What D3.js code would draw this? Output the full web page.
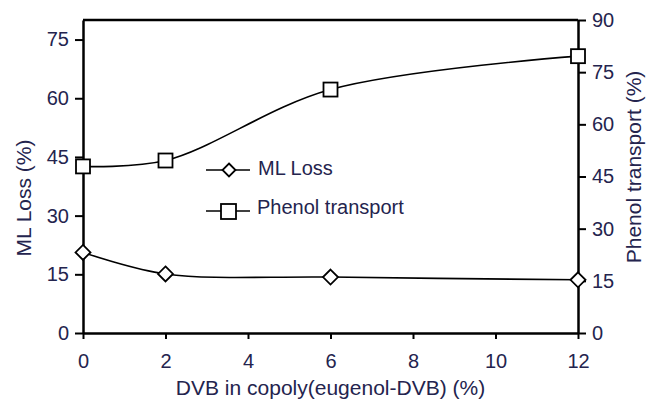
<!DOCTYPE html>
<html><head><meta charset="utf-8">
<script src="https://cdn.jsdelivr.net/npm/d3@7"></script>
<style>body{margin:0;background:#fff}svg{display:block}</style>
</head><body>
<script>
const dvb = [0, 2, 6, 12];
const mlLoss = [20.6, 15.1, 14.3, 13.6];
const phenolTransport = [47.9, 49.6, 70.0, 79.6];
const xTicks = [0, 2, 4, 6, 8, 10, 12];
const leftTicks = [0, 15, 30, 45, 60, 75];
const rightTicks = [0, 15, 30, 45, 60, 75, 90];

const W = 649, H = 403;
const L = 83, R = 578, T = 20, B = 333;
const txt = "#24244e";
const svg = d3.select("body").append("svg").attr("width", W).attr("height", H);

const x = d3.scaleLinear().domain([0, 12]).range([L, R]);
const yL = d3.scaleLinear().domain([0, 80]).range([B, T]);
const yR = d3.scaleLinear().domain([0, 90]).range([B, T]);

const font = "Liberation Sans, Arial, sans-serif";

// frame top
svg.append("line").attr("x1", L).attr("x2", R).attr("y1", T).attr("y2", T)
  .attr("stroke", "#000").attr("stroke-width", 2.5);

function styleAxis(g) {
  g.selectAll(".domain").attr("stroke", "#000").attr("stroke-width", 2.5);
  g.selectAll(".tick line").attr("stroke", "#000").attr("stroke-width", 2);
  g.selectAll(".tick text").attr("fill", txt).style("font-family", font).style("font-size", "20px");
}

const gx = svg.append("g").attr("transform", `translate(0,${B})`)
  .call(d3.axisBottom(x).tickValues(xTicks).tickSize(6).tickSizeOuter(0).tickPadding(15));
styleAxis(gx);
const gl = svg.append("g").attr("transform", `translate(${L},0)`)
  .call(d3.axisLeft(yL).tickValues(leftTicks).tickSize(8).tickSizeOuter(0).tickPadding(6));
styleAxis(gl);
const gr = svg.append("g").attr("transform", `translate(${R},0)`)
  .call(d3.axisRight(yR).tickValues(rightTicks).tickSize(8).tickSizeOuter(0).tickPadding(6));
styleAxis(gr);

// titles
svg.append("text").attr("x", (L + R) / 2).attr("y", 395).attr("text-anchor", "middle")
  .attr("fill", txt).style("font-family", font).style("font-size", "21px")
  .text("DVB in copoly(eugenol-DVB) (%)");
svg.append("text").attr("transform", `translate(31,198) rotate(-90)`)
  .attr("text-anchor", "middle").attr("fill", txt).style("font-family", font).style("font-size", "21px")
  .text("ML Loss (%)");
svg.append("text").attr("transform", `translate(641,167) rotate(-90)`)
  .attr("text-anchor", "middle").attr("fill", txt).style("font-family", font).style("font-size", "21px")
  .text("Phenol transport (%)");

const curve = d3.curveCatmullRom.alpha(0.5);
const lineL = d3.line().x((d, i) => x(dvb[i])).y(d => yL(d)).curve(curve);
const lineR = d3.line().x((d, i) => x(dvb[i])).y(d => yR(d)).curve(curve);

svg.append("path").attr("d", lineL(mlLoss)).attr("fill", "none").attr("stroke", "#000").attr("stroke-width", 1.6);
svg.append("path").attr("d", lineR(phenolTransport)).attr("fill", "none").attr("stroke", "#000").attr("stroke-width", 1.6);

const diamond = s => `M0,${-s}L${s},0L0,${s}L${-s},0Z`;
svg.selectAll(".dm").data(mlLoss).enter().append("path")
  .attr("d", diamond(7.5)).attr("transform", (d, i) => `translate(${x(dvb[i])},${yL(d)})`)
  .attr("fill", "#fff").attr("stroke", "#000").attr("stroke-width", 1.8);
svg.selectAll(".sq").data(phenolTransport).enter().append("rect")
  .attr("x", (d, i) => x(dvb[i]) - 7).attr("y", d => yR(d) - 7).attr("width", 14).attr("height", 14)
  .attr("fill", "#fff").attr("stroke", "#000").attr("stroke-width", 1.8);

// legend
const lg = svg.append("g");
lg.append("line").attr("x1", 206).attr("x2", 250).attr("y1", 170).attr("y2", 170).attr("stroke", "#000").attr("stroke-width", 1.6);
lg.append("path").attr("d", diamond(6.5)).attr("transform", "translate(229,170)").attr("fill", "#fff").attr("stroke", "#000").attr("stroke-width", 1.8);
lg.append("text").attr("x", 258).attr("y", 175).attr("fill", txt).style("font-family", font).style("font-size", "20px").text("ML Loss");
lg.append("line").attr("x1", 206).attr("x2", 250).attr("y1", 211).attr("y2", 211).attr("stroke", "#000").attr("stroke-width", 1.6);
lg.append("rect").attr("x", 221).attr("y", 204).attr("width", 15).attr("height", 15).attr("fill", "#fff").attr("stroke", "#000").attr("stroke-width", 1.8);
lg.append("text").attr("x", 257).attr("y", 214).attr("fill", txt).style("font-family", font).style("font-size", "20px").text("Phenol transport");
</script>
</body></html>
